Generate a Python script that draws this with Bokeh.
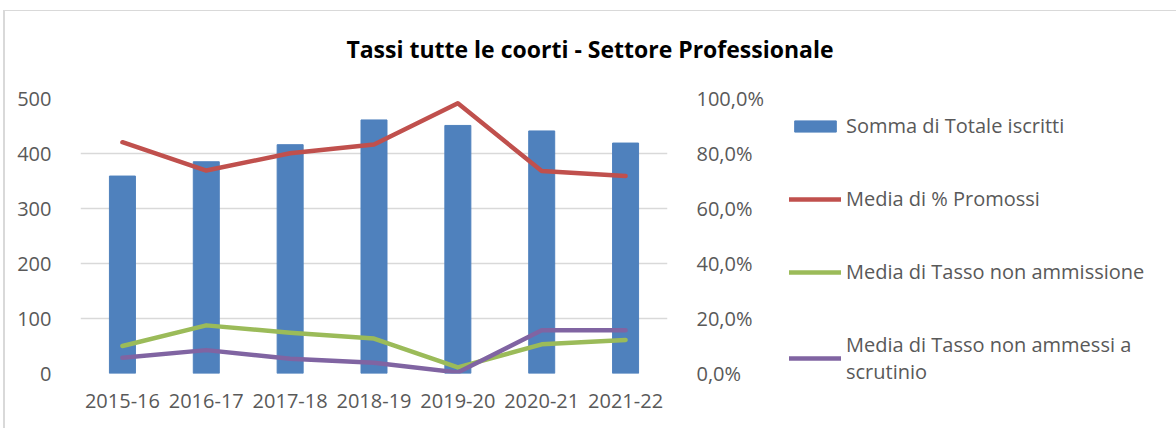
from bokeh.plotting import figure
from bokeh.layouts import column, row
from bokeh.models import (Range1d, LinearAxis, FixedTicker, Legend, LegendItem, FactorRange, Div)
from bokeh.embed import file_html
from bokeh.resources import INLINE

categories = ["2015-16", "2016-17", "2017-18", "2018-19", "2019-20", "2020-21", "2021-22"]
totale_iscritti = [359, 385, 416, 461, 451, 441, 419]
promossi = [84.1, 73.8, 80.1, 83.3, 98.3, 73.6, 71.8]
non_ammissione = [10.0, 17.5, 14.8, 12.7, 2.2, 10.6, 12.2]
non_ammessi_scrutinio = [5.7, 8.5, 5.4, 3.9, 0.4, 15.7, 15.7]
left_ticks = [0, 100, 200, 300, 400, 500]
right_ticks = [0, 20, 40, 60, 80, 100]
right_labels = ["0,0%", "20,0%", "40,0%", "60,0%", "80,0%", "100,0%"]
series_names = ["Somma di Totale iscritti", "Media di % Promossi",
                "Media di Tasso non ammissione", "Media di Tasso non ammessi a\nscrutinio"]
title_text = "Tassi tutte le coorti - Settore Professionale"

FONT = "Open Sans"
GREY = "#595959"
BLUE, RED, GREEN, PURPLE = "#4f81bd", "#c0504d", "#9bbb59", "#8064a2"
FS = "20px"
TOP, BOTTOM, FH = 38, 41, 275


def draw_series(fig):
    fig.extra_y_ranges = {"pct": Range1d(0, 100)}
    b = fig.vbar(x=categories, top=totale_iscritti, width=0.31, color=BLUE)
    r1 = fig.line(x=categories, y=promossi, y_range_name="pct", line_color=RED,
                  line_width=4.5, line_join="round", line_cap="round")
    r2 = fig.line(x=categories, y=non_ammissione, y_range_name="pct", line_color=GREEN,
                  line_width=4.5, line_join="round", line_cap="round")
    r3 = fig.line(x=categories, y=non_ammessi_scrutinio, y_range_name="pct", line_color=PURPLE,
                  line_width=4.5, line_join="round", line_cap="round")
    return [b, r1, r2, r3]


title = Div(text=('<div style="position:absolute;left:3px;top:10px;width:1173px;height:418px;'
                  'box-sizing:border-box;border-left:2px solid #d9d9d9;border-top:1px solid #d9d9d9;'
                  'pointer-events:none;"></div>'
                  f'<div style="width:1180px;text-align:center;font-family:\'{FONT}\';'
                  f'font-size:23px;font-weight:bold;color:black;padding-top:34px;line-height:30px;'
                  f'white-space:nowrap;">{title_text}</div>'),
            width=1176, height=60, margin=0)

p = figure(x_range=FactorRange(*categories), y_range=Range1d(0, 500),
           frame_width=587, frame_height=FH, output_backend="svg", toolbar_location=None,
           min_border_left=80, min_border_right=100, min_border_top=TOP, min_border_bottom=BOTTOM)
p.outline_line_color = None
p.border_fill_color = None
p.background_fill_color = None
p.margin = 0
draw_series(p)

# left axis
p.yaxis.ticker = FixedTicker(ticks=left_ticks)
p.yaxis.axis_line_color = None
p.yaxis.major_tick_line_color = None
p.yaxis.minor_tick_line_color = None
p.yaxis.major_label_standoff = 23
p.yaxis.major_label_text_font = FONT
p.yaxis.major_label_text_font_size = FS
p.yaxis.major_label_text_color = GREY

# right axis
ra = LinearAxis(y_range_name="pct", ticker=FixedTicker(ticks=right_ticks),
                major_label_overrides={t: l for t, l in zip(right_ticks, right_labels)})
ra.axis_line_color = None
ra.major_tick_line_color = None
ra.minor_tick_line_color = None
ra.major_label_standoff = 23
ra.major_label_text_font = FONT
ra.major_label_text_font_size = FS
ra.major_label_text_color = GREY
p.add_layout(ra, "right")

# x axis
p.xaxis.axis_line_color = None
p.xaxis.major_tick_line_color = None
p.xaxis.major_label_standoff = 14
p.xaxis.major_label_text_font = FONT
p.xaxis.major_label_text_font_size = FS
p.xaxis.major_label_text_color = GREY

p.xgrid.grid_line_color = None
p.ygrid.grid_line_color = "#d9d9d9"
p.ygrid.grid_line_width = 1.5

# legend panel (separate figure on the right; series hidden, only legend shown)
lf = figure(x_range=FactorRange(*categories), y_range=Range1d(0, 500),
            frame_width=400, frame_height=288, x_axis_type=None, y_axis_type=None,
            output_backend="svg", toolbar_location=None,
            min_border_left=0, min_border_right=0, min_border_top=TOP, min_border_bottom=0)
lf.outline_line_color = None
lf.border_fill_color = None
lf.background_fill_color = None
lf.grid.visible = False
lf.margin = 0
lrs = draw_series(lf)
for r in lrs:
    r.visible = False

legend = Legend(items=[LegendItem(label=n, renderers=[r]) for n, r in zip(series_names, lrs)],
                location=(22, 1))
legend.border_line_color = None
legend.background_fill_color = None
legend.background_fill_alpha = 0
legend.inactive_fill_alpha = 0
legend.label_text_font = FONT
legend.label_text_font_size = FS
legend.label_text_color = GREY
legend.glyph_width = 52
legend.glyph_height = 14
legend.label_standoff = 5
legend.spacing = 46
legend.margin = 0
legend.padding = 0
legend.label_height = 20
lf.add_layout(legend)

layout = column(title, row(p, lf, spacing=0), spacing=0)
open("out.html", "w").write(file_html(layout, INLINE))
